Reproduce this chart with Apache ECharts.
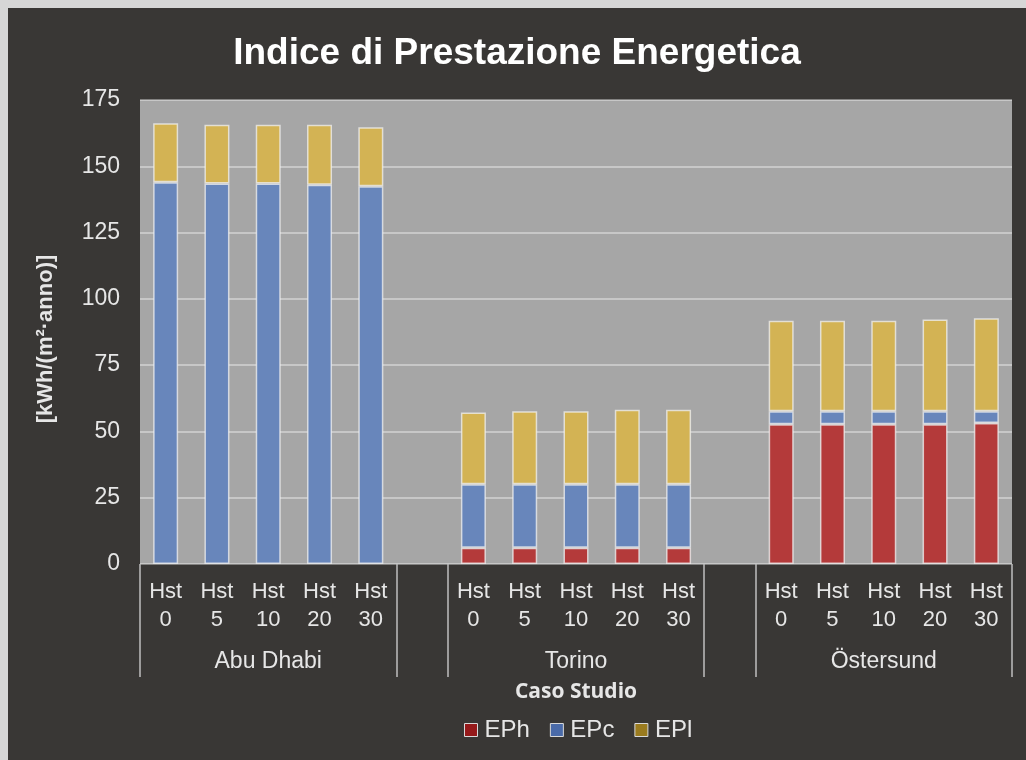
<!DOCTYPE html>
<html lang="it">
<head>
<meta charset="UTF-8">
<title>Indice di Prestazione Energetica</title>
<script src="https://cdn.jsdelivr.net/npm/echarts@6/dist/echarts.min.js"></script>
<style>
  * { margin: 0; padding: 0; }
  html, body { width: 1026px; height: 760px; background: #d6d6d6; overflow: hidden; }
  #chart { position: absolute; left: 8px; top: 8px; width: 1018px; height: 752px; }
</style>
</head>
<body>
<div id="chart"></div>
<script>
// data
var groups = ['Abu Dhabi', 'Torino', 'Östersund'];
var hstLabels = ['0', '5', '10', '20', '30'];
var yTicks = [0, 25, 50, 75, 100, 125, 150, 175];

var epH = [0, 0, 0, 0, 0,
           6.1, 6.1, 6.1, 6.1, 6.1,
           52.7, 52.7, 52.7, 52.7, 53.2];
var epC = [144.0, 143.5, 143.5, 143.0, 142.5,
           24.0, 24.0, 24.0, 24.0, 24.0,
           4.9, 4.9, 4.9, 4.9, 4.4];
var epL = [22.2, 22.2, 22.2, 22.7, 22.2,
           27.0, 27.5, 27.5, 28.1, 28.1,
           34.1, 34.1, 34.1, 34.6, 35.1];

var colors = { EPh: '#b43a3a', EPc: '#6886bb', EPl: '#d3b354' };
var legendColors = { EPh: '#95191a', EPc: '#4a6aa8', EPl: '#9a7b1f' };

// build 17 slots: 5 bars, gap, 5 bars, gap, 5 bars
var n = hstLabels.length;
function withGaps(arr) {
  var out = [];
  groups.forEach(function (g, gi) {
    if (gi > 0) out.push('-');
    for (var i = 0; i < n; i++) {
      var v = arr[gi * n + i];
      out.push(v === 0 ? '-' : v);
    }
  });
  return out;
}
var cats = [], groupCats = [], sepIdx = [0];
groups.forEach(function (g, gi) {
  if (gi > 0) { cats.push(''); groupCats.push(''); sepIdx.push(cats.length - 1, cats.length); }
  hstLabels.forEach(function (h, i) {
    cats.push('Hst\n' + h);
    groupCats.push(i === 2 ? g : '');
  });
});

var chart = echarts.init(document.getElementById('chart'));

function bar(name, data) {
  return {
    name: name,
    type: 'bar',
    stack: 'ep',
    barWidth: 25,
    data: withGaps(data),
    itemStyle: { color: colors[name], borderColor: 'rgba(240,240,240,0.75)', borderWidth: 1.5 }
  };
}

var option = {
  backgroundColor: '#393735',
  animation: false,
  title: {
    text: 'Indice di Prestazione Energetica',
    left: 'center',
    top: 22,
    textStyle: { color: '#ffffff', fontSize: 37, fontWeight: 'bold', fontFamily: 'Liberation Sans' }
  },
  legend: {
    left: 451,
    top: 705,
    icon: 'rect',
    itemWidth: 13,
    itemHeight: 13,
    itemGap: 20,
    textStyle: { color: '#e6e6e6', fontSize: 24, fontFamily: 'Liberation Sans', padding: [0, 0, 0, 2] },
    data: ['EPh', 'EPc', 'EPl'].map(function (k) {
      return { name: k, itemStyle: { color: legendColors[k], borderColor: '#d9d9d9', borderWidth: 1 } };
    })
  },
  grid: {
    left: 132, right: 14, top: 92, bottom: 196,
    show: true, backgroundColor: '#a6a6a6', borderWidth: 0
  },
  xAxis: [{
    type: 'category',
    data: cats,
    position: 'bottom',
    axisLine: { show: false },
    axisTick: { show: false },
    axisLabel: {
      interval: 0, color: '#e6e6e6', fontSize: 22, lineHeight: 28, margin: 14,
      fontFamily: 'Liberation Sans'
    },
    name: 'Caso Studio',
    nameLocation: 'middle',
    nameGap: 118,
    nameTextStyle: { color: '#e6e6e6', fontSize: 21, fontWeight: 'bold', fontFamily: 'Open Sans' }
  }, {
    type: 'category',
    data: groupCats,
    position: 'bottom',
    axisLine: { show: false },
    axisTick: {
      show: true, length: 113, inside: false,
      interval: function (i) { return sepIdx.indexOf(i) >= 0; },
      lineStyle: { color: '#bfbfbf', width: 1.5 }
    },
    axisLabel: { interval: 0, color: '#e6e6e6', fontSize: 23, margin: 86, fontFamily: 'Liberation Sans' }
  }],
  yAxis: {
    type: 'value',
    min: yTicks[0],
    max: yTicks[yTicks.length - 1],
    interval: yTicks[1] - yTicks[0],
    axisLine: { show: false },
    axisTick: { show: false },
    axisLabel: { color: '#e6e6e6', fontSize: 23, margin: 20, fontFamily: 'Liberation Sans' },
    splitLine: { lineStyle: { color: 'rgba(255,255,255,0.5)', width: 1.5 } },
    name: '[kWh/(m²·anno)]',
    nameLocation: 'middle',
    nameGap: 83,
    nameRotate: 90,
    nameTextStyle: {
      color: '#e6e6e6', fontSize: 22, fontWeight: 'bold', fontFamily: 'Liberation Sans',
      padding: [0, 14, 0, 0]
    }
  },
  series: [bar('EPh', epH), bar('EPc', epC), bar('EPl', epL)]
};
chart.setOption(option);
</script>
</body>
</html>
